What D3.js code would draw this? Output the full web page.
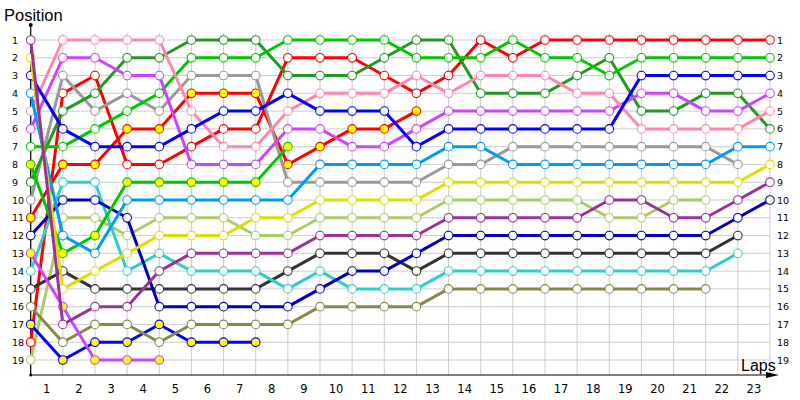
<!DOCTYPE html>
<html>
<head>
<meta charset="utf-8">
<script src="https://cdn.jsdelivr.net/npm/d3@7"></script>
<style>
  body { margin: 0; background: #fff; }
  svg text { font-family: "DejaVu Sans", Verdana, sans-serif; fill: #000; }
  svg text.title { font-family: "Liberation Sans", Arial, sans-serif; }
  .grid line { stroke: #cccccc; stroke-width: 1; }
</style>
</head>
<body>
<svg width="800" height="400"></svg>
<script>
// lap columns: 0 = grid, then laps 1..23
var laps = d3.range(0, 24);
var lapLabels = d3.range(1, 24);
var positions = d3.range(1, 20);

// position of each driver at each lap (index 0 = starting grid)
var red1     = [18,4,3,8,8,7,6,6,2,2,2,3,4,3,1,2,1,1,1,1,1,1,1,1];
var red2     = [11,8,8,6,6,4,4,4,8,7,6,6,5];
var green1   = [7,7,6,5,4,2,2,2,1,1,1,1,2,2,2,1,2,2,3,2,2,2,2,2];
var green2   = [8,13,12,9,9,9,9,9,7];
var dkGreen  = [9,5,4,2,2,1,1,1,3,3,3,2,1,1,4,4,4,3,2,5,5,4,4,6];
var blue1    = [3,6,7,7,7,6,5,5,4,5,5,5,7,6,6,6,6,6,6,3,3,3,3,3];
var blue2    = [17,19,18,18,17,18,18,18];
var pink     = [5,1,1,1,1,5,7,7,5,4,4,4,3,4,3,3,3,4,4,6,6,6,6,5];
var magenta1 = [6,2,2,3,3,8,8,8,6,6,7,7,6,5,5,5,5,5,5,4,4,5,5,4];
var magenta2 = [13,16,19,19,19];
var grey     = [10,3,5,4,5,3,3,3,9,9,9,9,9,8,8,7,7,7,7,7,7,7,8];
var ltBlue   = [4,12,13,10,10,10,10,10,10,8,8,8,8,7,7,8,8,8,8,8,8,8,7,7];
var yellow   = [2,15,14,13,12,12,12,11,11,10,10,10,10,9,9,9,9,9,9,9,9,9,9,8];
var ltGreen  = [19,11,11,12,11,11,11,12,12,11,11,11,11,10,10,10,10,10,11,11,10,10];
var dkPurple = [1,17,16,16,14,13,13,13,13,12,12,12,12,11,11,11,11,11,10,10,11,11,10,9];
var navy     = [12,10,10,11,16,16,16,16,16,15,14,14,13,12,12,12,12,12,12,12,12,12,11,10];
var dkGrey   = [15,14,15,15,15,15,15,15,14,13,13,13,14,13,13,13,13,13,13,13,13,13,12];
var cyan     = [14,9,9,14,13,14,14,14,15,14,15,15,15,14,14,14,14,14,14,14,14,14,13];
var olive    = [16,18,17,17,18,17,17,17,17,16,16,16,16,15,15,15,15,15,15,15,15,15];

var drivers = [
  { pos: ltGreen,  color: "#aacc66", second: false },
  { pos: red1,     color: "#ff0000", second: false },
  { pos: blue2,    color: "#0000ff", second: true },
  { pos: olive,    color: "#888844", second: false },
  { pos: dkGrey,   color: "#333333", second: false },
  { pos: cyan,     color: "#33cccc", second: false },
  { pos: magenta2, color: "#cc44ff", second: true },
  { pos: navy,     color: "#0000bb", second: false },
  { pos: red2,     color: "#ff0000", second: true },
  { pos: grey,     color: "#999999", second: false },
  { pos: dkGreen,  color: "#229922", second: false },
  { pos: green2,   color: "#00c800", second: true },
  { pos: green1,   color: "#00c800", second: false },
  { pos: magenta1, color: "#cc44ff", second: false },
  { pos: pink,     color: "#ff88aa", second: false },
  { pos: ltBlue,   color: "#0099ff", second: false },
  { pos: blue1,    color: "#0000ff", second: false },
  { pos: yellow,   color: "#dddd00", second: false },
  { pos: dkPurple, color: "#993399", second: false }
];

var svg = d3.select("svg");

var x = d3.scaleLinear().domain([0, 23]).range([30.7, 770]);
var y = d3.scaleLinear().domain([1, 19]).range([40, 360]);

// grid
var grid = svg.append("g").attr("class", "grid");
grid.selectAll(".v").data(laps).enter().append("line")
    .attr("x1", function (d) { return x(d); })
    .attr("x2", function (d) { return x(d); })
    .attr("y1", 33).attr("y2", 375);
grid.selectAll(".h").data(positions).enter().append("line")
    .attr("x1", x(0)).attr("x2", x(23))
    .attr("y1", function (d) { return y(d); })
    .attr("y2", function (d) { return y(d); });

// axes
svg.append("line").attr("x1", x(0)).attr("x2", x(0)).attr("y1", 25).attr("y2", 375)
    .attr("stroke", "#000").attr("stroke-width", 1.2);
svg.append("circle").attr("cx", x(0)).attr("cy", 25).attr("r", 2).attr("fill", "#000");
svg.append("line").attr("x1", x(0)).attr("x2", 772).attr("y1", 375).attr("y2", 375)
    .attr("stroke", "#000").attr("stroke-width", 1.2);
svg.append("path").attr("d", "M766,372 L779,375 L766,378 Z").attr("fill", "#000");
svg.append("circle").attr("cx", x(0)).attr("cy", 375).attr("r", 1.5).attr("fill", "#000");

svg.append("text").attr("class", "title").attr("x", 4).attr("y", 21)
    .style("font-size", "16.5px").text("Position");
svg.append("text").attr("class", "title").attr("x", 741).attr("y", 371)
    .style("font-size", "16px").text("Laps");

svg.selectAll(".yl").data(positions).enter().append("text")
    .attr("x", 12).attr("y", function (d) { return y(d) + 3.5; })
    .style("font-size", "9.5px").text(function (d) { return d; });
svg.selectAll(".yr").data(positions).enter().append("text")
    .attr("x", 777).attr("y", function (d) { return y(d) + 3.5; })
    .style("font-size", "9.5px").text(function (d) { return d; });

svg.selectAll(".xl").data(lapLabels).enter().append("text")
    .attr("x", function (d) { return x(d - 0.5); })
    .attr("y", 393).attr("text-anchor", "middle")
    .style("font-size", "11.5px").text(function (d) { return d; });

// driver lines
var line = d3.line()
    .x(function (d, i) { return x(i); })
    .y(function (d) { return y(d); });

drivers.forEach(function (dr) {
  var g = svg.append("g");
  g.append("path").datum(dr.pos).attr("d", line)
      .attr("fill", "none").attr("stroke", dr.color).attr("stroke-width", 3)
      .attr("stroke-linejoin", "round");
  g.selectAll("circle").data(dr.pos).enter().append("circle")
      .attr("cx", function (d, i) { return x(i); })
      .attr("cy", function (d) { return y(d); })
      .attr("r", 4.3)
      .attr("fill", dr.second ? "#ffff00" : "#fff")
      .attr("stroke", dr.color).attr("stroke-width", 1.1);
});
</script>
</body>
</html>
